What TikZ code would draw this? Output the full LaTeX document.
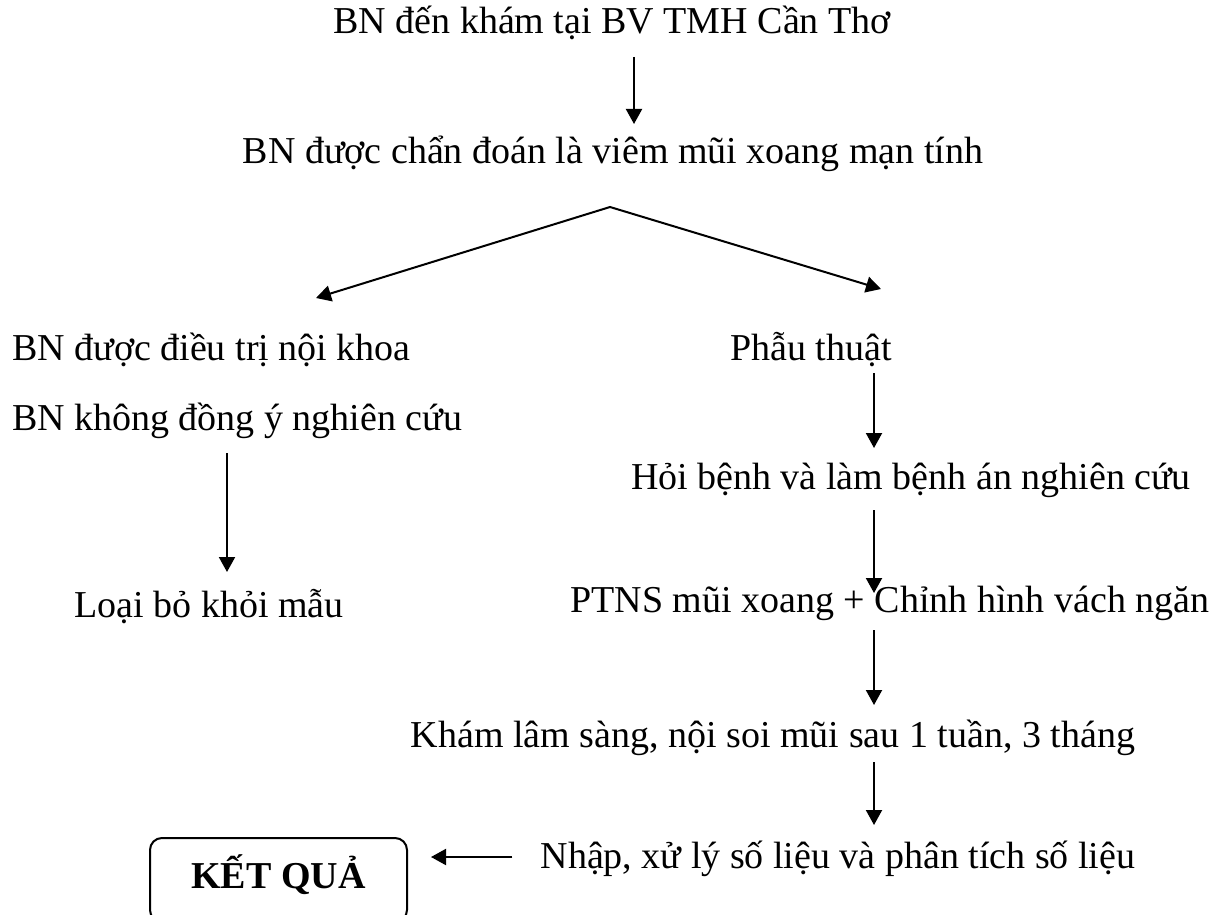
\documentclass[tikz,border=0pt]{standalone}
\usepackage{fontspec}
\setmainfont{Liberation Serif}
\usetikzlibrary{arrows.meta,calc}
\begin{document}
\begin{tikzpicture}[x=1pt,y=-1pt,
  txt/.style={inner sep=0pt, font=\fontsize{38}{46}\selectfont},
  arr/.style={line width=2pt, -{Triangle[length=15pt,width=16pt]}},
  kqbox/.style={draw, line width=2pt, rounded corners=12pt, minimum width=257pt,
    minimum height=84pt, inner sep=0pt, text height=25pt, text depth=9pt,
    font=\fontsize{38}{46}\selectfont\bfseries}]
\useasboundingbox (0,0) rectangle (1215,915);
\clip (0,0) rectangle (1215,915);
% columns
\coordinate (c1) at (634,0);
\coordinate (c2) at (227,0);
\coordinate (c3) at (874,0);
% nodes
\node[txt, anchor=base] (n1) at (612,34) {BN đến khám tại BV TMH Cần Thơ};
\node[txt, anchor=base] (n2) at (613,163) {BN được chẩn đoán là viêm mũi xoang mạn tính};
\node[txt, anchor=base west] (nd) at (12,360) {BN được điều trị nội khoa};
\node[txt, anchor=base west] (nk) at (12,430) {BN không đồng ý nghiên cứu};
\node[txt, anchor=base] (loai) at (209,617) {Loại bỏ khỏi mẫu};
\node[txt, anchor=base] (phau) at (811,360) {Phẫu thuật};
\node[txt, anchor=base] (hoi) at (911,489) {Hỏi bệnh và làm bệnh án nghiên cứu};
\node[txt, anchor=base] (ptns) at (890,612) {PTNS mũi xoang + Chỉnh hình vách ngăn};
\node[txt, anchor=base] (kham) at (773,747) {Khám lâm sàng, nội soi mũi sau 1 tuần, 3 tháng};
\node[txt, anchor=base] (nhap) at (838,868) {Nhập, xử lý số liệu và phân tích số liệu};
\node[kqbox] (kq) at (278.5,880) {KẾT QUẢ};
% chevron
\coordinate (peak) at (610,207);
\coordinate (lt) at (316,298);
\coordinate (rt) at (881,289);
\draw[line width=2pt, {Triangle[length=15pt,width=16pt]}-{Triangle[length=15pt,width=16pt]}]
  (lt) -- (peak) -- (rt);
% vertical arrows
\draw[arr] ($(n1.base -| c1)+(0,23)$) -- ($(n2.base -| c1)+(0,-39)$);
\draw[arr] ($(nk.base -| c2)+(0,23)$) -- ($(loai.base -| c2)+(0,-45)$);
\draw[arr] ($(phau.base -| c3)+(0,13)$) -- ($(hoi.base -| c3)+(0,-41)$);
\draw[arr] ($(hoi.base -| c3)+(0,21)$) -- ($(ptns.base -| c3)+(0,-19)$);
\draw[arr] ($(ptns.base -| c3)+(0,18)$) -- ($(kham.base -| c3)+(0,-42)$);
\draw[arr] ($(kham.base -| c3)+(0,15)$) -- ($(nhap.base -| c3)+(0,-43)$);
% horizontal arrow
\draw[arr] ($(nhap.base west)+(-28,-11)$) -- ($(nhap.base west -| kq.east)+(23,-11)$);
\end{tikzpicture}
\end{document}
